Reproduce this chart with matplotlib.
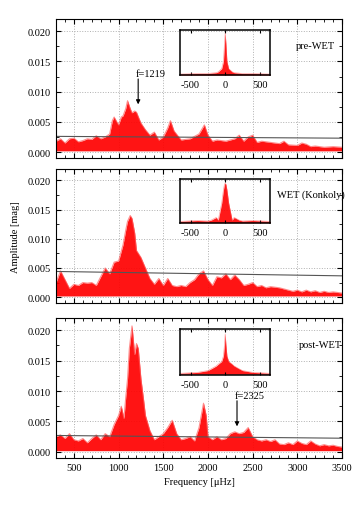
import numpy as np
import matplotlib.pyplot as plt
from matplotlib.ticker import MultipleLocator

plt.rcParams['font.family'] = ['Liberation Serif', 'DejaVu Serif']
plt.rcParams['font.size'] = 7.5
plt.rcParams['axes.unicode_minus'] = False

# Amplitude spectra (upper envelope of the overlapping spectra), mag
freq_pre = [300, 350, 400, 450, 500, 550, 600, 650, 700, 750, 800, 850, 900, 930, 950, 980,
            1000, 1030, 1050, 1080, 1100, 1130, 1150, 1180, 1200, 1230, 1250, 1300, 1350,
            1400, 1450, 1500, 1550, 1580, 1620, 1700, 1800, 1900, 1960, 2000, 2050, 2100,
            2200, 2250, 2300, 2350, 2400, 2450, 2500, 2550, 2600, 2700, 2800, 2850, 2900,
            3000, 3050, 3100, 3150, 3200, 3300, 3400, 3500]
amp_pre = [0.0018, 0.0022, 0.0015, 0.0022, 0.0023, 0.0017, 0.0019, 0.0022, 0.0021, 0.0027,
           0.0022, 0.0025, 0.0030, 0.0052, 0.0058, 0.0050, 0.0045, 0.0058, 0.0060, 0.0072,
           0.0085, 0.0072, 0.0065, 0.0068, 0.0066, 0.0055, 0.0048, 0.0037, 0.0028, 0.0033,
           0.0020, 0.0025, 0.0040, 0.0052, 0.0035, 0.0020, 0.0022, 0.0030, 0.0045, 0.0028,
           0.0018, 0.0020, 0.0018, 0.0020, 0.0022, 0.0028, 0.0018, 0.0025, 0.0028, 0.0016,
           0.0018, 0.0016, 0.0014, 0.0018, 0.0012, 0.0011, 0.0015, 0.0013, 0.0009, 0.0010,
           0.0008, 0.0009, 0.0008]

freq_wet = [300, 350, 400, 450, 500, 550, 600, 650, 700, 750, 800, 850, 900, 950, 1000,
            1050, 1080, 1100, 1130, 1150, 1180, 1200, 1250, 1300, 1350, 1400, 1450, 1500,
            1550, 1600, 1650, 1700, 1750, 1800, 1850, 1900, 1950, 2000, 2050, 2100, 2150,
            2200, 2250, 2300, 2350, 2400, 2450, 2500, 2550, 2600, 2650, 2700, 2750, 2800,
            2850, 2900, 2950, 3000, 3050, 3100, 3150, 3200, 3250, 3300, 3350, 3400, 3450,
            3500]
amp_wet = [0.0025, 0.0045, 0.0030, 0.0015, 0.0022, 0.0020, 0.0025, 0.0024, 0.0025, 0.0020,
           0.0035, 0.0050, 0.0040, 0.0060, 0.0062, 0.0090, 0.0115, 0.0130, 0.0140, 0.0135,
           0.0110, 0.0080, 0.0068, 0.0050, 0.0032, 0.0022, 0.0032, 0.0020, 0.0032, 0.0020,
           0.0018, 0.0020, 0.0018, 0.0025, 0.0030, 0.0040, 0.0045, 0.0030, 0.0020, 0.0035,
           0.0033, 0.0040, 0.0030, 0.0038, 0.0030, 0.0020, 0.0022, 0.0025, 0.0018, 0.0020,
           0.0016, 0.0018, 0.0017, 0.0016, 0.0014, 0.0012, 0.0010, 0.0012, 0.0009, 0.0012,
           0.0009, 0.0011, 0.0008, 0.0010, 0.0008, 0.0009, 0.0008, 0.0007]

freq_post = [300, 350, 400, 450, 500, 550, 600, 650, 700, 750, 800, 850, 900, 950, 1000,
             1030, 1060, 1080, 1100, 1120, 1150, 1180, 1200, 1220, 1250, 1280, 1300, 1350,
             1400, 1450, 1500, 1550, 1600, 1650, 1700, 1750, 1800, 1850, 1900, 1950, 1980,
             2000, 2050, 2100, 2150, 2200, 2250, 2300, 2350, 2400, 2450, 2500, 2550, 2600,
             2650, 2700, 2750, 2800, 2850, 2900, 2950, 3000, 3050, 3100, 3150, 3200, 3250,
             3300, 3350, 3400, 3450, 3500]
amp_post = [0.0025, 0.0028, 0.0022, 0.0030, 0.0020, 0.0018, 0.0022, 0.0015, 0.0022, 0.0028,
            0.0020, 0.0030, 0.0025, 0.0045, 0.0060, 0.0075, 0.0055, 0.0090, 0.0120, 0.0170,
            0.0207, 0.0160, 0.0178, 0.0170, 0.0120, 0.0085, 0.0060, 0.0035, 0.0020, 0.0025,
            0.0030, 0.0040, 0.0052, 0.0030, 0.0020, 0.0022, 0.0025, 0.0018, 0.0040, 0.0080,
            0.0060, 0.0025, 0.0020, 0.0025, 0.0020, 0.0022, 0.0030, 0.0033, 0.0030, 0.0032,
            0.0040, 0.0025, 0.0020, 0.0018, 0.0020, 0.0017, 0.0020, 0.0013, 0.0012, 0.0015,
            0.0012, 0.0018, 0.0014, 0.0012, 0.0018, 0.0013, 0.0010, 0.0012, 0.0010, 0.0011,
            0.0009, 0.0008]

# significance level (start, end) at 300 and 3500 uHz
sig_freq = [300, 3500]
sig_pre = [0.0026, 0.0023]
sig_wet = [0.0044, 0.00365]
sig_post = [0.0027, 0.00225]

# spectral windows (inset)
win_freq = [-650, -400, -250, -200, -130, -100, -50, -25, -10, 0, 10, 25, 50, 100, 130,
            200, 250, 400, 650]
win_pre = [0.02, 0.03, 0.03, 0.04, 0.05, 0.07, 0.14, 0.30, 0.70, 0.92, 0.70, 0.30, 0.14,
           0.07, 0.05, 0.04, 0.03, 0.03, 0.02]
win_wet = [0.03, 0.05, 0.04, 0.06, 0.12, 0.06, 0.45, 0.75, 0.88, 0.90, 0.88, 0.75, 0.45,
           0.06, 0.12, 0.06, 0.04, 0.05, 0.03]
win_post = [0.02, 0.04, 0.08, 0.12, 0.18, 0.22, 0.28, 0.40, 0.65, 0.88, 0.65, 0.40, 0.28,
            0.22, 0.18, 0.12, 0.08, 0.04, 0.02]

labels = ['pre-WET', 'WET (Konkoly)', 'post-WET']
label_x = [0.839, 0.773, 0.85]

fig = plt.figure(figsize=(3.57, 5.1), dpi=100)
boxes = [[0.157, 0.688, 0.801, 0.2725],
         [0.157, 0.404, 0.801, 0.263],
         [0.157, 0.100, 0.801, 0.2745]]

panels = [(freq_pre, amp_pre, sig_pre, win_pre),
          (freq_wet, amp_wet, sig_wet, win_wet),
          (freq_post, amp_post, sig_post, win_post)]

arrow = dict(arrowstyle='-|>', color='black', lw=0.8, mutation_scale=6,
             shrinkA=0, shrinkB=0)

for i, (fr, amp, sig, win) in enumerate(panels):
    ax = fig.add_axes(boxes[i])
    ax.fill_between(fr, 0.0002, amp, color='#ff0000', alpha=0.92, lw=0)
    ax.plot(fr, amp, color='#ff6060', lw=0.8, alpha=0.7)
    ax.plot(sig_freq, sig, color='#555555', lw=0.8)
    ax.set_xlim(300, 3500)
    ax.set_ylim(-0.001, 0.022)
    ax.xaxis.set_major_locator(MultipleLocator(500))
    ax.xaxis.set_minor_locator(MultipleLocator(100))
    ax.yaxis.set_major_locator(MultipleLocator(0.005))
    ax.yaxis.set_minor_locator(MultipleLocator(0.0025))
    ax.yaxis.set_major_formatter(plt.FormatStrFormatter('%.3f'))
    ax.tick_params(which='both', direction='in', top=True, right=True)
    ax.tick_params(which='major', length=3.5)
    ax.tick_params(which='minor', length=2)
    ax.grid(True, which='major', ls=':', color='#b0b0b0', lw=0.7)
    ax.set_axisbelow(True)
    if i < 2:
        ax.set_xticklabels([])
    ax.text(label_x[i], 0.0177, labels[i], transform=ax.get_yaxis_transform(),
            ha='left', va='center', clip_on=False)

    ins = ax.inset_axes([0.434, 0.595, 0.315, 0.33])
    ins.set_facecolor('none')
    ins.fill_between(win_freq, 0, win, color='#ff0000', alpha=0.9, lw=0)
    ins.plot(win_freq, win, color='#ff6060', lw=0.5, alpha=0.6)
    ins.set_xlim(-650, 650)
    ins.set_ylim(-0.01, 1.0)
    ins.set_xticks([-500, 0, 500])
    ins.set_yticks([])
    ins.tick_params(direction='in', length=2.5, top=True)
    for s in ins.spines.values():
        s.set_linewidth(1.1)

    if i == 0:
        ax.annotate('', xy=(1219, 0.0079), xytext=(1219, 0.0121), arrowprops=arrow)
        ax.text(1190, 0.0123, 'f=1219', ha='left', va='bottom')
    if i == 1:
        ax.set_ylabel('Amplitude [mag]', labelpad=6)
    if i == 2:
        ax.annotate('', xy=(2325, 0.0042), xytext=(2325, 0.0084), arrowprops=arrow)
        ax.text(2300, 0.0086, 'f=2325', ha='left', va='bottom')
        ax.set_xlabel('Frequency [\u03bcHz]')

fig.savefig('out.png', dpi=100)
